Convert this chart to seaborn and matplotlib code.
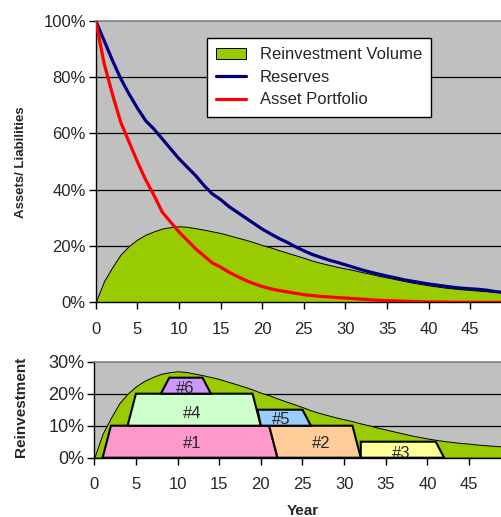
import numpy as np
import pandas as pd
import matplotlib.pyplot as plt
import seaborn as sns

# values (in %)
years = list(range(50))
reinvestment = [0, 7.5, 12.5, 17, 20, 22.3, 24, 25.2, 26.2, 26.7,
                27, 26.8, 26.3, 25.8, 25.2, 24.6, 23.8, 23, 22.2, 21.3,
                20.3, 19.5, 18.5, 17.6, 16.7, 15.8, 14.8, 14, 13.3, 12.6,
                12, 11.4, 10.7, 10.1, 9.4, 8.8, 8.2, 7.6, 7, 6.5,
                6, 5.6, 5.2, 4.9, 4.6, 4.4, 4.1, 3.9, 3.7, 3.5]
reserves = [100, 93, 86, 79.5, 74, 69, 64.5, 61.5, 58, 54.5,
            51, 48, 45, 41.5, 38.5, 36.5, 34, 32, 30, 28,
            26, 24.3, 22.7, 21.3, 19.7, 18.3, 17, 16, 15, 14.2,
            13.3, 12.4, 11.5, 10.7, 10, 9.3, 8.7, 8, 7.5, 7,
            6.5, 6.1, 5.7, 5.3, 5, 4.8, 4.6, 4.3, 3.8, 3.5]
asset_portfolio = [100, 85, 74, 64, 57, 50, 43.5, 38, 32, 28.5,
                   25, 22, 19, 16.5, 14, 12.5, 10.7, 9.2, 7.8, 6.6,
                   5.6, 4.8, 4.2, 3.7, 3.2, 2.7, 2.4, 2.1, 1.9, 1.7,
                   1.5, 1.3, 1.1, 0.9, 0.7, 0.6, 0.5, 0.4, 0.3, 0.2,
                   0.1, 0.1, 0.1, 0, 0, 0, 0, 0, 0, 0]

# reinvestment blocks: bottom-left, top-left, top-right, bottom-right year, bottom/top level
block_names = ['#1', '#2', '#3', '#4', '#5', '#6']
block_x = [(1, 2, 21, 22), (22, 21, 31, 32), (32, 32, 41, 42),
           (4, 5, 19, 20), (20, 19.6, 25, 26), (8, 9, 13, 14)]
block_low = [0, 0, 0, 10, 10, 20]
block_high = [10, 10, 5, 20, 15, 25]
block_colors = ['#FF99CC', '#FFCC99', '#FFFF99', '#CCFFCC', '#99CCFF', '#CC99FF']
label_pos = [(11.8, 4.3), (27.2, 4.3), (36.8, 1.4), (11.8, 13.9), (22.4, 11.8), (10.9, 21.6)]

df = pd.DataFrame({'Year': years, 'Reinvestment Volume': reinvestment,
                   'Reserves': reserves, 'Asset Portfolio': asset_portfolio})

sns.set_style('white')
plt.rcParams['font.family'] = ['Liberation Sans', 'DejaVu Sans']

fig = plt.figure(figsize=(5.02, 5.17), dpi=100)
ax = fig.add_axes([0.1906, 0.4153, 0.8094, 0.5447])
ax2 = fig.add_axes([0.1878, 0.1147, 0.8096, 0.1857])

green = '#99CC00'
xmax = 48.8

for a in (ax, ax2):
    a.set_facecolor('#C0C0C0')
    a.set_xlim(0, xmax)
    for s in ('left', 'bottom'):
        a.spines[s].set_color('black')
        a.spines[s].set_linewidth(1)
    a.spines['top'].set_color('#808080')
    a.spines['top'].set_linewidth(1.2)
    a.spines['right'].set_visible(False)
    a.set_xticks(range(0, 50, 5))
    a.tick_params(axis='both', direction='out', length=5, width=1, color='black',
                  labelsize=12, bottom=True, left=True)
    a.tick_params(axis='x', pad=9)
    a.tick_params(axis='y', pad=2)

# top chart
ax.fill_between(df['Year'], df['Reinvestment Volume'], color=green,
                edgecolor='black', linewidth=0.7, label='Reinvestment Volume', zorder=2)
sns.lineplot(data=df, x='Year', y='Reserves', color='#000080', linewidth=2.3,
             ax=ax, label='Reserves', zorder=3)
sns.lineplot(data=df, x='Year', y='Asset Portfolio', color='#FF0000', linewidth=2.3,
             ax=ax, label='Asset Portfolio', zorder=4)
ax.set_ylim(0, 100)
ax.set_yticks(range(0, 101, 20))
ax.set_yticklabels([f'{v}%' for v in range(0, 101, 20)])
ax.set_xlabel('')
ax.set_ylabel('')
for v in range(20, 100, 20):
    ax.axhline(v, color='black', linewidth=0.9, zorder=1)
leg = ax.legend(loc='upper left', bbox_to_anchor=(0.274, 0.9375), bbox_transform=ax.transAxes,
                borderaxespad=0, fontsize=12, frameon=True, fancybox=False,
                handlelength=1.8, handleheight=0.7, labelspacing=0.45, borderpad=0.55)
leg.get_frame().set_edgecolor('black')
leg.get_frame().set_linewidth(1)
leg.get_frame().set_facecolor('white')
leg.get_frame().set_alpha(1)

# bottom chart
ax2.fill_between(df['Year'], df['Reinvestment Volume'], color=green,
                 edgecolor='black', linewidth=0.7, zorder=2)
for name, xs, lo, hi, col, pos in zip(block_names, block_x, block_low, block_high,
                                      block_colors, label_pos):
    ax2.fill([xs[0], xs[1], xs[2], xs[3]], [lo, hi, hi, lo], facecolor=col,
             edgecolor='black', linewidth=1.5, zorder=3)
    ax2.text(pos[0], pos[1], name, ha='center', va='center', fontsize=12, zorder=4)
ax2.set_ylim(0, 30)
ax2.set_yticks([0, 10, 20, 30])
ax2.set_yticklabels(['0%', '10%', '20%', '30%'], fontsize=13)
ax2.set_xlabel('')
ax2.set_ylabel('')
for v in (10, 20):
    ax2.axhline(v, color='black', linewidth=0.9, zorder=1)

fig.text(0.041, 0.6857, 'Assets/ Liabilities', rotation=90, ha='center', va='center',
         fontsize=9.5, fontweight='bold')
fig.text(0.042, 0.2133, 'Reinvestment', rotation=90, ha='center', va='center',
         fontsize=11, fontweight='bold')
fig.text(0.6036, 0.012, 'Year', ha='center', va='center', fontsize=11, fontweight='bold')

fig.savefig('out.png', dpi=100)
